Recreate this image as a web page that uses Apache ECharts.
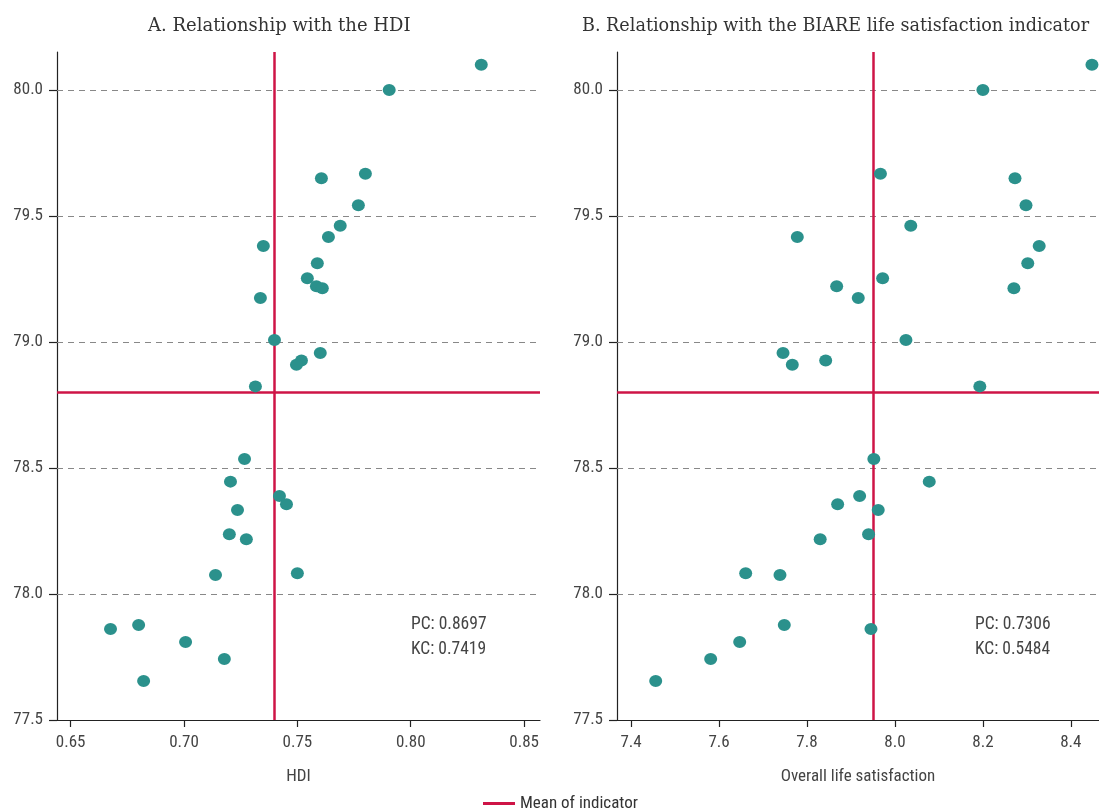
<!DOCTYPE html>
<html>
<head>
<meta charset="utf-8">
<script src="https://cdn.jsdelivr.net/npm/echarts@6/dist/echarts.min.js"></script>
<style>
html,body{margin:0;padding:0;background:#fff;}
#chart{width:1099px;height:810px;}
</style>
</head>
<body>
<div id="chart"></div>
<script>
// Life expectancy (y) per state, with HDI and overall life satisfaction (x)
const lifeExp = [80.10, 80.00, 79.668, 79.650, 79.543, 79.461, 79.417, 79.381, 79.313, 79.253,
  79.221, 79.213, 79.175, 79.008, 78.956, 78.927, 78.910, 78.824, 78.536, 78.446,
  78.389, 78.356, 78.333, 78.237, 78.217, 78.082, 78.075, 77.877, 77.861, 77.810,
  77.742, 77.655];
const hdi = [0.8311, 0.7905, 0.7800, 0.7606, 0.7769, 0.7689, 0.7637, 0.7350, 0.7588, 0.7544,
  0.7584, 0.7610, 0.7337, 0.7399, 0.7601, 0.7518, 0.7496, 0.7315, 0.7267, 0.7205,
  0.7421, 0.7452, 0.7236, 0.7200, 0.7275, 0.7500, 0.7139, 0.6800, 0.6676, 0.7007,
  0.7178, 0.6822];
const lifeSat = [8.448, 8.200, 7.967, 8.273, 8.298, 8.036, 7.778, 8.328, 8.302, 7.972,
  7.8675, 8.2705, 7.9166, 8.025, 7.7455, 7.8425, 7.7666, 8.193, 7.952, 8.078,
  7.9197, 7.8697, 7.962, 7.940, 7.830, 7.6606, 7.7386, 7.7484, 7.9455, 7.647,
  7.581, 7.456];
const meanHdi = 0.7411;
const meanLifeSat = 7.954;
const meanLifeExp = 78.80;
const yTicks = [77.5, 78.0, 78.5, 79.0, 79.5, 80.0];
const yGrid = [78.0, 78.5, 79.0, 79.5, 80.0];
const hdiTicks = [0.65, 0.70, 0.75, 0.80, 0.85];
const satTicks = [7.4, 7.6, 7.8, 8.0, 8.2, 8.4];
const titles = ['A. Relationship with the HDI', 'B. Relationship with the BIARE life satisfaction indicator'];
const axisNames = ['HDI', 'Overall life satisfaction'];
const statsA = ['PC: 0.8697', 'KC: 0.7419'];
const statsB = ['PC: 0.7306', 'KC: 0.5484'];
const legendName = 'Mean of indicator';

const TEAL = '#2B918C';
const RED = '#CE1446';
const NARROW = '"Liberation Sans Narrow", "Roboto Condensed", "Arial Narrow", Roboto, sans-serif';
const SERIF = '"DejaVu Serif", serif';

const chart = echarts.init(document.getElementById('chart'), null, {renderer: 'canvas'});

function xAxisCfg(idx, min, max, ticks, digits) {
  return {
    type: 'value', gridIndex: idx, min: min, max: max,
    name: axisNames[idx], nameLocation: 'middle', nameGap: 48,
    nameTextStyle: {fontFamily: NARROW, fontSize: 17, color: '#444'},
    axisLine: {show: true, lineStyle: {color: '#222', width: 1.2}},
    axisTick: {show: true, length: 7, lineStyle: {color: '#222', width: 1.2}, customValues: ticks},
    axisLabel: {fontFamily: NARROW, fontSize: 17, color: '#444', margin: 14,
      customValues: ticks, formatter: v => v.toFixed(digits)},
    splitLine: {show: false}
  };
}
function yAxisCfg(idx) {
  return {
    type: 'value', gridIndex: idx, min: 77.5, max: 80.151,
    axisLine: {show: true, onZero: false, lineStyle: {color: '#222', width: 1.2}},
    axisTick: {show: true, length: 8, lineStyle: {color: '#222', width: 1.2}, customValues: yTicks},
    axisLabel: {fontFamily: NARROW, fontSize: 17, color: '#444', margin: 14,
      customValues: yTicks, formatter: v => v.toFixed(1)},
    splitLine: {show: false}
  };
}
function gridLines(idx) {
  return {
    type: 'scatter', xAxisIndex: idx, yAxisIndex: idx, data: [], z: 1,
    markLine: {
      silent: true, symbol: 'none', z: 1, label: {show: false},
      lineStyle: {color: '#888', type: [6, 5], width: 1.2},
      data: yGrid.map(v => ({yAxis: v}))
    }
  };
}
function meanLines(idx, xMean) {
  return {
    type: 'scatter', xAxisIndex: idx, yAxisIndex: idx, data: [], z: 2,
    markLine: {
      silent: true, symbol: 'none', z: 2, label: {show: false},
      lineStyle: {color: RED, type: 'solid', width: 2.5},
      data: [{xAxis: xMean}, {yAxis: meanLifeExp}]
    }
  };
}

const option = {
  animation: false,
  backgroundColor: '#fff',
  grid: [
    {left: 57, top: 52, width: 483, height: 668},
    {left: 617, top: 52, width: 482, height: 668}
  ],
  xAxis: [xAxisCfg(0, 0.6440, 0.8570, hdiTicks, 2), xAxisCfg(1, 7.368, 8.464, satTicks, 1)],
  yAxis: [yAxisCfg(0), yAxisCfg(1)],
  legend: {
    data: [legendName], left: 478, top: 790,
    icon: 'rect', itemWidth: 32, itemHeight: 3, itemGap: 10,
    textStyle: {fontFamily: NARROW, fontSize: 17, color: '#333'}
  },
  series: [
    gridLines(0), gridLines(1),
    meanLines(0, meanHdi), meanLines(1, meanLifeSat),
    {
      name: legendName, type: 'line', data: [], xAxisIndex: 0, yAxisIndex: 0,
      color: RED, lineStyle: {color: RED, width: 3}
    },
    {
      type: 'scatter', xAxisIndex: 0, yAxisIndex: 0, z: 5,
      symbolSize: [13, 12], itemStyle: {color: TEAL, opacity: 1},
      data: hdi.map((v, i) => [v, lifeExp[i]])
    },
    {
      type: 'scatter', xAxisIndex: 1, yAxisIndex: 1, z: 5,
      symbolSize: [13, 12], itemStyle: {color: TEAL, opacity: 1},
      data: lifeSat.map((v, i) => [v, lifeExp[i]])
    }
  ],
  graphic: [
    {type: 'text', left: 148, top: 17, style: {text: titles[0], font: '18px ' + SERIF, fill: '#333'}},
    {type: 'text', left: 582, top: 17, style: {text: titles[1], font: '17.6px ' + SERIF, fill: '#333'}},
    {type: 'text', left: 411, top: 612, style: {text: statsA.join('\n'), font: '17.5px ' + NARROW, fill: '#444', lineHeight: 25}},
    {type: 'text', left: 975, top: 612, style: {text: statsB.join('\n'), font: '17.5px ' + NARROW, fill: '#444', lineHeight: 25}}
  ]
};
chart.setOption(option);
</script>
</body>
</html>
